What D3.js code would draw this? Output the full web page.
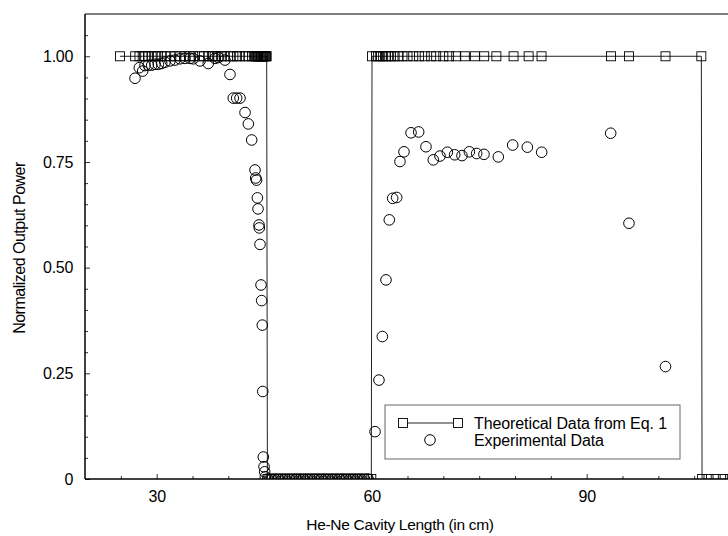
<!DOCTYPE html>
<html><head><meta charset="utf-8">
<script src="https://cdn.jsdelivr.net/npm/d3@7"></script>
<style>
html,body{margin:0;padding:0;background:#fff;}
svg text{font-family:"Liberation Sans",Arial,sans-serif;fill:#000;}
</style></head>
<body><svg id="c" width="728" height="536"></svg>
<script>
// Experimental data (circles)
const expX = [26.98,27.58,28.05,28.37,28.83,29.31,29.77,30.23,30.70,31.16,31.86,32.56,33.26,33.95,34.65,35.11,36.05,37.2,38.14,38.6,39.53,40.23,40.69,41.16,41.63,42.33,42.79,43.26,43.72,43.82,43.93,44.05,44.14,44.28,44.32,44.42,44.56,44.65,44.74,44.80,44.88,44.98,45.07,45.16,
45.5,46.0,46.5,47.0,47.5,48.0,48.5,49.0,49.5,50.0,50.5,51.0,51.5,52.0,52.5,53.0,53.5,54.0,54.5,55.0,55.5,56.0,56.5,57.0,57.5,58.0,58.5,59.0,59.5,
60.47,61.02,61.49,62.0,62.46,62.93,63.49,63.95,64.51,65.49,66.56,67.58,68.6,69.53,70.56,71.58,72.6,73.63,74.65,75.67,77.67,79.68,81.72,83.72,93.35,95.9,101.0];
const expY = [0.948,0.973,0.965,0.978,0.979,0.979,0.981,0.981,0.983,0.986,0.989,0.991,0.994,0.995,0.995,0.994,0.989,0.983,0.995,0.997,0.991,0.957,0.901,0.901,0.901,0.867,0.840,0.802,0.731,0.712,0.707,0.665,0.639,0.601,0.594,0.555,0.459,0.422,0.364,0.207,0.052,0.029,0.017,0.005,
0,0,0,0,0,0,0,0,0,0,0,0,0,0,0,0,0,0,0,0,0,0,0,0,0,0,0,0,0,
0.112,0.234,0.337,0.471,0.613,0.664,0.666,0.751,0.774,0.819,0.821,0.786,0.755,0.764,0.773,0.767,0.765,0.774,0.770,0.768,0.762,0.790,0.785,0.773,0.818,0.605,0.266];

// Theoretical data from Eq. 1 (squares)
const theoX = [24.88,27.0,27.6,28.05,28.4,28.8,29.3,29.8,30.2,30.7,31.2,31.9,32.6,33.3,34.0,34.6,35.1,36.0,36.6,37.2,37.7,38.1,38.6,39.1,39.5,40.2,40.7,41.2,41.6,42.3,42.8,43.3,43.7,43.8,43.9,44.05,44.15,44.3,44.4,44.55,44.65,44.75,44.85,44.95,45.05,45.15,45.25,45.35,
45.45,45.9,46.4,46.9,47.4,47.9,48.4,48.9,49.4,49.9,50.4,50.9,51.4,51.9,52.4,52.9,53.4,53.9,54.4,54.9,55.4,55.9,56.4,56.9,57.4,57.9,58.4,58.9,59.4,59.95,
60.05,60.6,60.9,61.2,61.6,62.0,62.3,62.7,63.2,63.7,64.3,65.0,65.8,66.6,67.4,68.3,69.0,70.0,70.8,71.8,73.0,74.4,75.7,77.4,79.8,81.9,83.7,93.4,95.9,101.0,106.0,
106.1,107.0,108.0,109.0,110.0];
const theoY = [1,1,1,1,1,1,1,1,1,1,1,1,1,1,1,1,1,1,1,1,1,1,1,1,1,1,1,1,1,1,1,1,1,1,1,1,1,1,1,1,1,1,1,1,1,1,1,1,
0,0,0,0,0,0,0,0,0,0,0,0,0,0,0,0,0,0,0,0,0,0,0,0,0,0,0,0,0,0,
1,1,1,1,1,1,1,1,1,1,1,1,1,1,1,1,1,1,1,1,1,1,1,1,1,1,1,1,1,1,1,
0,0,0,0,0];

const xTicks = [30,60,90];
const xMinor = [25,35,40,45,50,55,65,70,75,80,85,95,100,105];
const yTicks = [0,0.25,0.5,0.75,1.0];
const yTickLabels = ["0","0.25","0.50","0.75","1.00"];
const yMinor = [0.05,0.1,0.15,0.2,0.3,0.35,0.4,0.45,0.55,0.6,0.65,0.7,0.8,0.85,0.9,0.95,1.05];

const svg = d3.select("#c");
const L=85, T=14, B=479;
const x = d3.scaleLinear().domain([20,110]).range([L, L+90*7.1667]);
const y = d3.scaleLinear().domain([0,1.1]).range([B, T]);

svg.append("defs").append("clipPath").attr("id","clip")
  .append("rect").attr("x",L).attr("y",T).attr("width",x(110)-L).attr("height",B-T);

// frame
svg.append("line").attr("x1",L).attr("x2",728).attr("y1",T).attr("y2",T).attr("stroke","#000").attr("stroke-width",1);

// axes with inward ticks
const xAxis = d3.axisBottom(x).tickValues(xTicks).tickSize(-5).tickPadding(12).tickFormat(d3.format("d"));
const gx = svg.append("g").attr("transform",`translate(0,${B})`).call(xAxis);
gx.select(".domain").remove();
gx.selectAll("text").attr("font-size",16).attr("font-family","Liberation Sans, Arial, sans-serif").style("letter-spacing","-0.3px");
gx.selectAll(".tick line").attr("stroke","#333");
const xAxisMinor = d3.axisBottom(x).tickValues(xMinor).tickSize(-3).tickFormat("");
const gxm = svg.append("g").attr("transform",`translate(0,${B})`).call(xAxisMinor);
gxm.select(".domain").remove();
gxm.selectAll(".tick line").attr("stroke","#333");

const yAxis = d3.axisLeft(y).tickValues(yTicks).tickSize(-5).tickPadding(12).tickFormat((d,i)=>yTickLabels[i]);
const gy = svg.append("g").attr("transform",`translate(${L},0)`).call(yAxis);
gy.select(".domain").remove();
gy.selectAll("text").attr("font-size",16).attr("font-family","Liberation Sans, Arial, sans-serif").style("letter-spacing","-0.3px");
gy.selectAll(".tick line").attr("stroke","#333");
const yAxisMinor = d3.axisLeft(y).tickValues(yMinor).tickSize(-3).tickFormat("");
const gym = svg.append("g").attr("transform",`translate(${L},0)`).call(yAxisMinor);
gym.select(".domain").remove();
gym.selectAll(".tick line").attr("stroke","#333");

svg.append("line").attr("x1",L).attr("x2",728).attr("y1",B).attr("y2",B).attr("stroke","#000").attr("stroke-width",1.5);
svg.append("line").attr("x1",L).attr("x2",L).attr("y1",T).attr("y2",B).attr("stroke","#000").attr("stroke-width",1.5);

// axis titles
svg.append("text").attr("x",400).attr("y",530).attr("text-anchor","middle").attr("font-size",15.5).style("letter-spacing","-0.3px").text("He-Ne Cavity Length (in cm)");
svg.append("text").attr("transform","translate(25,248) rotate(-90)").attr("text-anchor","middle").attr("font-size",16).style("letter-spacing","-0.5px").text("Normalized Output Power");

const plot = svg.append("g").attr("clip-path","url(#clip)");
const theo = theoX.map((d,i)=>[d,theoY[i]]);
const exp = expX.map((d,i)=>[d,expY[i]]);

plot.append("path").datum(theo).attr("fill","none").attr("stroke","#222").attr("stroke-width",1)
  .attr("d", d3.line().x(d=>x(d[0])).y(d=>y(d[1])));
const S=9;
plot.selectAll("rect.sq").data(theo).join("rect").attr("class","sq")
  .attr("x",d=>x(d[0])-S/2).attr("y",d=>y(d[1])-S/2).attr("width",S).attr("height",S)
  .attr("fill","none").attr("stroke","#000").attr("stroke-width",0.9);
plot.selectAll("circle.ex").data(exp).join("circle").attr("class","ex")
  .attr("cx",d=>x(d[0])).attr("cy",d=>y(d[1])).attr("r",5.3)
  .attr("fill","none").attr("stroke","#000").attr("stroke-width",1);

// legend
const lg = svg.append("g");
lg.append("rect").attr("x",385).attr("y",405).attr("width",295).attr("height",54).attr("fill","#fff").attr("stroke","#666").attr("stroke-width",1);
lg.append("line").attr("x1",403).attr("x2",458).attr("y1",423).attr("y2",423).attr("stroke","#222");
[403,458].forEach(cx=>lg.append("rect").attr("x",cx-S/2).attr("y",423-S/2).attr("width",S).attr("height",S).attr("fill","#fff").attr("stroke","#000").attr("stroke-width",0.9));
lg.append("circle").attr("cx",430).attr("cy",440).attr("r",5.3).attr("fill","none").attr("stroke","#000");
lg.append("text").attr("x",474).attr("y",429).attr("font-size",16).style("letter-spacing","-0.1px").text("Theoretical Data from Eq. 1");
lg.append("text").attr("x",474).attr("y",446).attr("font-size",16).style("letter-spacing","-0.1px").text("Experimental Data");
</script></body></html>
